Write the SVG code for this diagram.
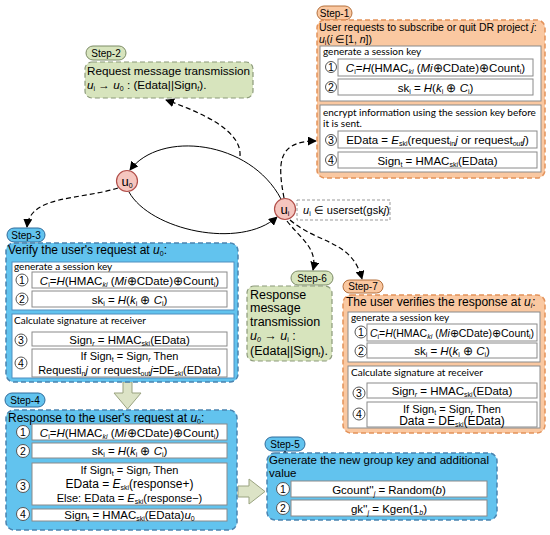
<svg xmlns="http://www.w3.org/2000/svg" width="550" height="535" viewBox="0 0 550 535">
<defs>
<marker id="ah" viewBox="0 0 10 10" refX="9" refY="5" markerWidth="9" markerHeight="9" markerUnits="userSpaceOnUse" orient="auto">
<path d="M0,0 L10,5 L0,10 z" fill="#000"/>
</marker>
<style>
text{font-family:"Liberation Sans",Arial,sans-serif;fill:#000}
.h{font-size:12px}
.m{font-size:11.5px;text-anchor:middle}
.c{font-family:Lato,"Liberation Sans",sans-serif;font-size:10px}
.p{font-size:10px;text-anchor:middle}
.n{font-size:10.5px;text-anchor:middle}
.s{font-size:7px;baseline-shift:-2px}
.i{font-style:italic}
.row{fill:#fff;stroke:#8a8a8a;stroke-width:1}
.sbx{fill:#fff;stroke:#8a8a8a;stroke-width:1}
.sbb{fill:#fff;stroke:#4f8fc0;stroke-width:1}
.num{fill:#fff;stroke:#555;stroke-width:1}
.or{fill:#FAC8A1;stroke:#E3925A;stroke-width:1.5;stroke-dasharray:5 3}
.bl{fill:#62C3EE;stroke:#4A84B0;stroke-width:1.5;stroke-dasharray:5 3}
.gr{fill:#D7E4BD;stroke:#8C9A7A;stroke-width:1.2;stroke-dasharray:5 3}
.por{fill:#FAC8A1;stroke:#B5703C;stroke-width:1}
.pbl{fill:#62C3EE;stroke:#2F6C9C;stroke-width:1}
.pgr{fill:#D7E4BD;stroke:#7D8C66;stroke-width:1}
.nd{fill:#F5C6BF;stroke:#B24F4A;stroke-width:1.2}
.sol{fill:none;stroke:#000;stroke-width:1}
.dsh{fill:none;stroke:#000;stroke-width:1.2;stroke-dasharray:5 3}
.hol{fill:#DCE3C6;stroke:#9AA380;stroke-width:1}
.g6{font-size:12.5px}
</style>
</defs>

<g id="connectors">
<path class="sol" d="M281,199 C250,140 160,130 130,170" marker-end="url(#ah)"/>
<path class="sol" d="M129,192 C150,230 240,250 277,217" marker-end="url(#ah)"/>
<path class="dsh" d="M240,156 C242,130 200,112 166,100" marker-end="url(#ah)"/>
<path class="dsh" d="M284,198 C278,165 276,141 316,141" marker-end="url(#ah)"/>
<path class="dsh" d="M118,188 C80,200 30,195 27,227" marker-end="url(#ah)"/>
<path class="dsh" d="M287,221 C300,238 318,248 313,270" marker-end="url(#ah)"/>
<path class="dsh" d="M290,220 C320,245 352,240 362,279" marker-end="url(#ah)"/>
<path d="M281.5,456 L285,450 L288.5,456 z" fill="#000"/>
<polygon class="hol" points="123,382 132,382 132,393 141,393 127.5,409 114,393 123,393"/>
<polygon class="hol" points="238,486 249,486 249,479 265,491.5 249,504 249,497 238,497"/>
</g>

<g id="u0">
<circle class="nd" cx="127" cy="181" r="10.5"/>
<text x="127" y="186" font-size="13" text-anchor="middle">u<tspan class="s">0</tspan></text>
</g>

<g id="ui">
<circle class="nd" cx="285" cy="209" r="10.5"/>
<text x="285" y="214" font-size="13" text-anchor="middle">u<tspan class="s">i</tspan></text>
<rect x="297" y="200" width="93" height="20" fill="#fff" stroke="#999" stroke-dasharray="3 2"/>
<text x="303" y="214" font-size="11"><tspan class="i">u</tspan><tspan class="s">i</tspan> ∈ userset(gsk<tspan class="i">j</tspan>)</text>
</g>

<g id="step1">
<rect class="por" x="317" y="6" width="35" height="14" rx="7"/>
<text class="p" x="334.5" y="16.5">Step-1</text>
<rect class="or" x="317" y="20" width="228" height="158" rx="8"/>
<text x="319" y="31" font-size="10.5">User requests to subscribe or quit DR project <tspan class="i">j</tspan>:</text>
<text x="319" y="43" font-size="10.5"><tspan class="i">u</tspan><tspan class="s">i</tspan>(<tspan class="i">i</tspan> ∈[1, <tspan class="i">n</tspan>])</text>
<rect class="sbx" x="320" y="46" width="221" height="55"/>
<text class="c" x="323" y="55">generate a session key</text>
<circle class="num" cx="331" cy="67" r="5.5"/><text class="n" x="331" y="71">1</text>
<rect class="row" x="338" y="59" width="195" height="17"/>
<text class="m" x="435.5" y="71.5"><tspan class="i">C</tspan><tspan class="s">i</tspan>=<tspan class="i">H</tspan>(HMAC<tspan class="s i">ki</tspan> (<tspan class="i">Mi</tspan>⊕CDate)⊕Count<tspan class="s">i</tspan>)</text>
<circle class="num" cx="331" cy="87" r="5.5"/><text class="n" x="331" y="91">2</text>
<rect class="row" x="338" y="79" width="195" height="16"/>
<text class="m" x="435.5" y="91.5">sk<tspan class="s">i</tspan> = <tspan class="i">H</tspan>(<tspan class="i">k</tspan><tspan class="s">i</tspan> ⊕ <tspan class="i">C</tspan><tspan class="s">i</tspan>)</text>
<rect class="sbx" x="320" y="105" width="221" height="67"/>
<text class="c" x="323" y="116">encrypt information using the session key before</text>
<text class="c" x="323" y="127">it is sent.</text>
<circle class="num" cx="331" cy="140" r="5.5"/><text class="n" x="331" y="144">3</text>
<rect class="row" x="338" y="131" width="199" height="17"/>
<text x="437.5" y="144" font-size="11.5" text-anchor="middle">EData = <tspan class="i">E</tspan><tspan class="s">ski</tspan>(request<tspan class="s">in</tspan><tspan class="i">j</tspan> or request<tspan class="s i">out</tspan><tspan class="i">j</tspan>)</text>
<circle class="num" cx="331" cy="160" r="5.5"/><text class="n" x="331" y="164">4</text>
<rect class="row" x="338" y="152" width="199" height="16"/>
<text class="m" x="437.5" y="164.5">Sign<tspan class="s">t</tspan> = HMAC<tspan class="s">ski</tspan>(EData)</text>
</g>

<g id="step2">
<rect class="pgr" x="86" y="46" width="40" height="14" rx="7"/>
<text class="p" x="106" y="56.5">Step-2</text>
<rect class="gr" x="85" y="62" width="168" height="36" rx="7"/>
<text x="87" y="75" font-size="11.7">Request message transmission</text>
<text x="87" y="89" font-size="11.7"><tspan class="i">u</tspan><tspan class="s">i</tspan> → <tspan class="i">u</tspan><tspan class="s">0</tspan> : (Edata||Sign<tspan class="s i">t</tspan>).</text>
</g>

<g id="step3">
<rect class="pbl" x="7" y="228" width="38" height="14" rx="7"/>
<text class="p" x="26" y="238.5">Step-3</text>
<rect class="bl" x="6" y="243" width="232" height="139" rx="8"/>
<text class="h" x="8" y="254">Verify the user's request at <tspan class="i">u</tspan><tspan class="s">0</tspan>:</text>
<rect class="sbb" x="12" y="262" width="222" height="48"/>
<text class="c" x="14" y="270">generate a session key</text>
<circle class="num" cx="22" cy="280" r="6"/><text class="n" x="22" y="284">1</text>
<rect class="row" x="32" y="272" width="195" height="16"/>
<text class="m" x="129.5" y="284.5"><tspan class="i">C</tspan><tspan class="s">i</tspan>=<tspan class="i">H</tspan>(HMAC<tspan class="s i">ki</tspan> (<tspan class="i">Mi</tspan>⊕CDate)⊕Count<tspan class="s">i</tspan>)</text>
<circle class="num" cx="22" cy="299" r="6"/><text class="n" x="22" y="303">2</text>
<rect class="row" x="32" y="291" width="195" height="16"/>
<text class="m" x="129.5" y="303.5">sk<tspan class="s">i</tspan> = <tspan class="i">H</tspan>(<tspan class="i">k</tspan><tspan class="s">i</tspan> ⊕ <tspan class="i">C</tspan><tspan class="s">i</tspan>)</text>
<rect class="sbb" x="12" y="314" width="222" height="64"/>
<text class="c" x="14" y="324">Calculate signature at receiver</text>
<circle class="num" cx="21" cy="340" r="6"/><text class="n" x="21" y="344">3</text>
<rect class="row" x="32" y="332" width="195" height="14"/>
<text class="m" x="129.5" y="343.5">Sign<tspan class="s i">r</tspan> = HMAC<tspan class="s">ski</tspan>(EData)</text>
<circle class="num" cx="21" cy="363" r="6"/><text class="n" x="21" y="367">4</text>
<rect class="row" x="32" y="349" width="195" height="28"/>
<text x="129.5" y="360" font-size="11" text-anchor="middle">If Sign<tspan class="s">t</tspan> = Sign<tspan class="s i">r</tspan> Then</text>
<text x="129.5" y="373.5" font-size="11" text-anchor="middle">Requesti<tspan class="s">n</tspan><tspan class="i">j</tspan> or request<tspan class="s">out</tspan><tspan class="i">j</tspan>=DE<tspan class="s">ski</tspan>(EData)</text>
</g>

<g id="step4">
<rect class="pbl" x="5" y="393" width="40" height="14" rx="7"/>
<text class="p" x="25" y="403.5">Step-4</text>
<rect class="bl" x="6" y="410" width="231" height="120" rx="8"/>
<text class="h" x="8" y="422">Response to the user's request at <tspan class="i">u</tspan><tspan class="s">0</tspan>:</text>
<circle class="num" cx="23" cy="432" r="6.5"/><text class="n" x="23" y="436">1</text>
<rect class="row" x="32" y="424" width="195" height="16"/>
<text class="m" x="129.5" y="436.5"><tspan class="i">C</tspan><tspan class="s">i</tspan>=<tspan class="i">H</tspan>(HMAC<tspan class="s i">ki</tspan> (<tspan class="i">Mi</tspan>⊕CDate)⊕Count<tspan class="s">i</tspan>)</text>
<circle class="num" cx="23" cy="451" r="6.5"/><text class="n" x="23" y="455">2</text>
<rect class="row" x="32" y="443" width="195" height="15"/>
<text class="m" x="129.5" y="455">sk<tspan class="s">i</tspan> = <tspan class="i">H</tspan>(<tspan class="i">k</tspan><tspan class="s">i</tspan> ⊕ <tspan class="i">C</tspan><tspan class="s">i</tspan>)</text>
<circle class="num" cx="23" cy="486" r="6.5"/><text class="n" x="23" y="490">3</text>
<rect class="row" x="32" y="463" width="195" height="42"/>
<text x="129.5" y="474" font-size="11" text-anchor="middle">If Sign<tspan class="s">t</tspan> = Sign<tspan class="s i">r</tspan> Then</text>
<text x="129.5" y="488" font-size="12" text-anchor="middle">EData = <tspan class="i">E</tspan><tspan class="s">ski</tspan>(response+)</text>
<text x="129.5" y="502" font-size="11" text-anchor="middle">Else: EData = <tspan class="i">E</tspan><tspan class="s">ski</tspan>(response−)</text>
<circle class="num" cx="23" cy="514" r="6.5"/><text class="n" x="23" y="518">4</text>
<rect class="row" x="32" y="509" width="195" height="12"/>
<text class="m" x="129.5" y="519">Sign<tspan class="s">t</tspan> = HMAC<tspan class="s">ski</tspan>(EData)<tspan class="i">u</tspan><tspan class="s">0</tspan></text>
</g>

<g id="step5">
<rect class="pbl" x="265" y="437" width="40" height="14" rx="7"/>
<text class="p" x="285" y="447.5">Step-5</text>
<rect class="bl" x="267" y="453" width="230" height="67" rx="8"/>
<text x="269" y="464" font-size="11.5">Generate the new group key and additional</text>
<text x="269" y="477" font-size="11.5">value</text>
<circle class="num" cx="283" cy="489" r="6.5"/><text class="n" x="283" y="493">1</text>
<rect class="row" x="291" y="481" width="196" height="16"/>
<text class="m" x="389" y="493.5">Gcount''<tspan class="s i">j</tspan> = Random(<tspan class="i">b</tspan>)</text>
<circle class="num" cx="283" cy="508" r="6.5"/><text class="n" x="283" y="512">2</text>
<rect class="row" x="291" y="500" width="196" height="16"/>
<text class="m" x="389" y="512.5">gk''<tspan class="s i">j</tspan> = Kgen(1<tspan class="s i">b</tspan>)</text>
</g>

<g id="step6">
<rect class="pgr" x="291" y="271" width="42" height="14" rx="7"/>
<text class="p" x="312" y="281.5">Step-6</text>
<rect class="gr" x="247" y="286" width="85" height="75" rx="7"/>
<text class="g6" x="250" y="298.5">Response</text>
<text class="g6" x="250" y="312">message</text>
<text class="g6" x="250" y="325.5">transmission</text>
<text class="g6" x="250" y="340"><tspan class="i">u</tspan><tspan class="s i">0</tspan> → <tspan class="i">u</tspan><tspan class="s">i</tspan> :</text>
<text class="g6" x="250" y="354.5">(Edata||Sign<tspan class="s i">t</tspan>).</text>
</g>

<g id="step7">
<rect class="por" x="343" y="280" width="40" height="13" rx="6.5"/>
<text class="p" x="363" y="290">Step-7</text>
<rect class="or" x="343" y="295" width="202" height="138" rx="8"/>
<text class="h" x="346" y="306">The user verifies the response at <tspan class="i">u</tspan><tspan class="s i">i</tspan>:</text>
<rect class="sbx" x="348" y="312" width="192" height="50"/>
<text class="c" x="351" y="321">generate a session key</text>
<circle class="num" cx="361" cy="332" r="6"/><text class="n" x="361" y="336">1</text>
<rect class="row" x="367" y="324" width="170" height="17"/>
<text x="452" y="336.5" font-size="10.5" text-anchor="middle"><tspan class="i">C</tspan><tspan class="s">i</tspan>=<tspan class="i">H</tspan>(HMAC<tspan class="s i">ki</tspan> (<tspan class="i">Mi</tspan>⊕CDate)⊕Count<tspan class="s">i</tspan>)</text>
<circle class="num" cx="361" cy="351" r="6"/><text class="n" x="361" y="355">2</text>
<rect class="row" x="367" y="343" width="170" height="15"/>
<text class="m" x="452" y="355">sk<tspan class="s">i</tspan> = <tspan class="i">H</tspan>(<tspan class="i">k</tspan><tspan class="s">i</tspan> ⊕ <tspan class="i">C</tspan><tspan class="s">i</tspan>)</text>
<rect class="sbx" x="348" y="366" width="192" height="62"/>
<text class="c" x="351" y="376">Calculate signature at receiver</text>
<circle class="num" cx="359" cy="393" r="6"/><text class="n" x="359" y="397">3</text>
<rect class="row" x="367" y="383" width="170" height="15"/>
<text class="m" x="452" y="395">Sign<tspan class="s i">r</tspan> = HMAC<tspan class="s">ski</tspan>(EData)</text>
<circle class="num" cx="359" cy="414" r="6"/><text class="n" x="359" y="418">4</text>
<rect class="row" x="367" y="402" width="170" height="25"/>
<text x="452" y="412.5" font-size="11" text-anchor="middle">If Sign<tspan class="s">t</tspan> = Sign<tspan class="s i">r</tspan> Then</text>
<text x="452" y="425" font-size="12" text-anchor="middle">Data = DE<tspan class="s">ski</tspan>(EData)</text>
</g>
</svg>
